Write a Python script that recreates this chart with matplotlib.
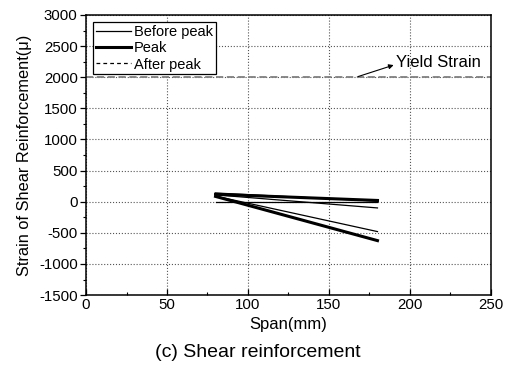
import matplotlib.pyplot as plt
from matplotlib.ticker import MultipleLocator

plt.rcParams['font.family'] = ['Liberation Sans', 'DejaVu Sans']
plt.rcParams['axes.unicode_minus'] = False

# strain gauge readings at span 80 mm and 180 mm
span = [80, 180]
before_peak = [
    [140, 10],
    [110, -100],
    [0, 0],
    [90, -480],
]
peak = [
    [85, -625],
    [120, 20],
]
yield_strain = 2000

fig = plt.figure(figsize=(5.06, 3.74), dpi=100)
ax = fig.add_axes([0.170, 0.211, 0.800, 0.749])

for i, s in enumerate(before_peak):
    ax.plot(span, s, color='black', lw=0.9, label='Before peak' if i == 0 else None)
for i, s in enumerate(peak):
    ax.plot(span, s, color='black', lw=2.2, label='Peak' if i == 0 else None)
ax.plot([], [], color='black', lw=0.9, ls=(0, (3, 2.5)), label='After peak')

ax.axhline(yield_strain, color='gray', lw=1.3, ls=(0, (4, 2)))
ax.annotate('', xy=(190, 2195), xytext=(168, 2010),
            arrowprops=dict(arrowstyle='-|>', color='black', lw=0.8,
                            mutation_scale=7, shrinkA=0, shrinkB=0))
ax.text(191.5, 2230, 'Yield Strain', fontsize=12, ha='left', va='center')

ax.set_xlim(0, 250)
ax.set_ylim(-1500, 3000)
ax.xaxis.set_major_locator(MultipleLocator(50))
ax.xaxis.set_minor_locator(MultipleLocator(25))
ax.yaxis.set_major_locator(MultipleLocator(500))
ax.yaxis.set_minor_locator(MultipleLocator(250))
ax.tick_params(axis='x', which='both', direction='in', labelsize=10.8, pad=2)
ax.tick_params(axis='y', which='both', direction='out', labelsize=10.8, pad=2)
ax.tick_params(which='major', length=4, width=0.9)
ax.tick_params(which='minor', length=2.5, width=0.8)
ax.grid(True, which='major', color='#555555', ls=':', lw=0.8)

for sp in ax.spines.values():
    sp.set_linewidth(1.1)

ax.set_xlabel('Span(mm)', fontsize=12, labelpad=4)
ax.set_ylabel('Strain of Shear Reinforcement(\u03bc)', fontsize=11.8, labelpad=5)

leg = ax.legend(loc='upper left', fontsize=10.5, frameon=True, fancybox=False,
                handlelength=2.4, handletextpad=0.2, borderpad=0.2,
                labelspacing=0.15, borderaxespad=0.5)
leg.get_frame().set_edgecolor('black')
leg.get_frame().set_linewidth(0.9)
leg.get_frame().set_alpha(1)

fig.text(0.51, 0.058, '(c) Shear reinforcement', fontsize=14, ha='center', va='center')

fig.savefig('out.png', dpi=100)
